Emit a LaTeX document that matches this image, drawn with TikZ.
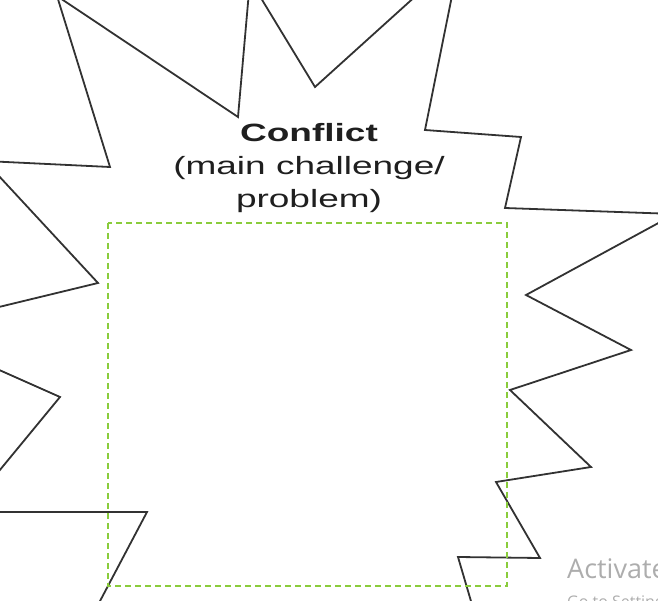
\documentclass[tikz,border=0pt]{standalone}
\usepackage{fontspec}
\setmainfont{Liberation Sans}
\newfontfamily\wmfont{Open Sans}
\definecolor{framegreen}{RGB}{138,204,60}
\definecolor{burstgray}{RGB}{50,50,50}

\begin{document}
\begin{tikzpicture}[x=1pt,y=-1pt,
  burst/.style={draw=burstgray,line width=1.8pt,line join=miter,fill=white},
  frame/.style={draw=framegreen,line width=2.4pt,dash pattern=on 6pt off 4pt},
  title/.style={anchor=north,inner sep=0pt,text=black!88,font=\fontsize{25}{33}\selectfont},
  watermark/.style={anchor=base west,inner sep=0pt,text=black!32}]
  \useasboundingbox (0,0) rectangle (658,601);
  \clip (0,0) rectangle (658,601);

  \draw[burst] (57,-4) -- (238,117) -- (250,-20) -- (315,87) -- (460,-44)
    -- (425,130) -- (521,137) -- (505,208) -- (675,214) -- (526,295)
    -- (631,350) -- (510,390) -- (591,467) -- (496,482) -- (540,558)
    -- (458,557) -- (478,625) -- (300,700) -- (90,620) -- (147,512)
    -- (-20,512) -- (-10,482) -- (60,397) -- (-30,357) -- (-30,314)
    -- (98,283) -- (-15,161) -- (110,167) -- cycle;

  \node[title] (conflict) at (309,118) {\scalebox{1.48}[1]{\begin{tabular}{@{}c@{}}
    \textbf{Conflict}\\(main challenge/\\problem)\end{tabular}}};

  \draw[frame] (108,223) rectangle (507,586);

  \node[watermark,font=\wmfont\fontsize{27}{30}\selectfont] (activate) at (567,578) {Activate Windows};
  \node[watermark,font=\wmfont\fontsize{16}{18}\selectfont] (settings) at (567,607) {Go to Settings to activate Windows.};
\end{tikzpicture}
\end{document}
